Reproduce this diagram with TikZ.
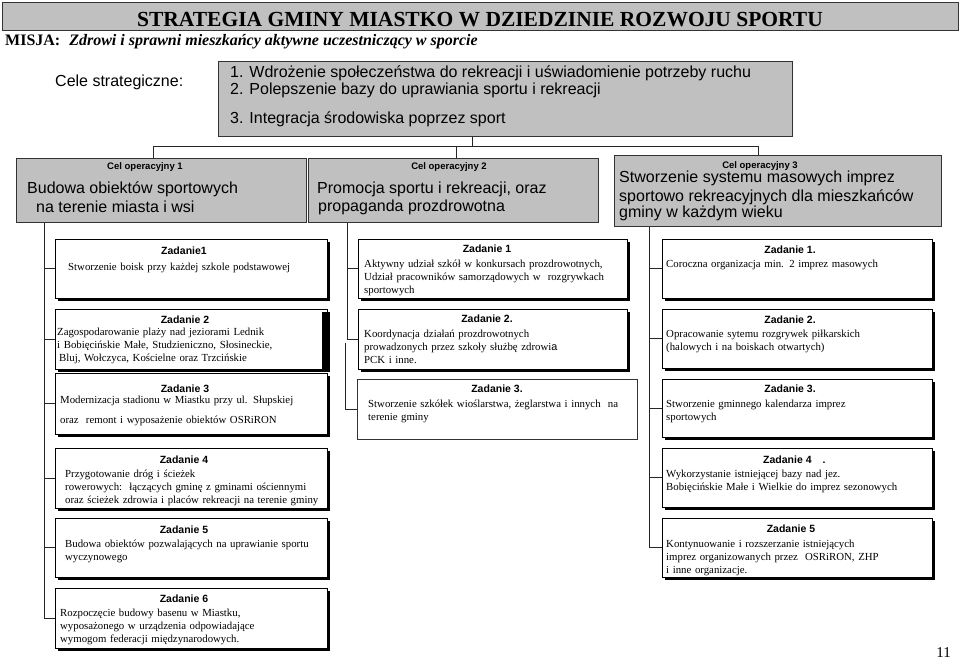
\documentclass[tikz,border=0pt]{standalone}
\usepackage{fontspec}
\setmainfont{Liberation Serif}
\setsansfont{Liberation Sans}
\usetikzlibrary{shadows,calc}
\definecolor{boxgray}{RGB}{192,192,192}
\tikzset{
  graybox/.style={draw=black!80, fill=boxgray, line width=0.8pt, inner sep=0pt, anchor=north west},
  zbox/.style={draw=black, fill=white, line width=0.8pt, inner sep=0pt, anchor=north west,
    drop shadow={shadow xshift=2.5pt, shadow yshift=-2.5pt, fill=black, opacity=1}},
  zboxflat/.style={draw=black!80, fill=white, line width=0.8pt, inner sep=0pt, anchor=north west},
  conn/.style={draw=black!85, line width=0.9pt},
  ztitle/.style={font=\sffamily\bfseries\fontsize{10.5}{12}\selectfont, inner sep=0pt, anchor=base},
  zbody/.style={font=\fontsize{10.8}{13.2}\selectfont, inner sep=0pt, anchor=base west, align=left, text width=280pt},
  celsmall/.style={font=\sffamily\bfseries\fontsize{9.5}{11}\selectfont, inner sep=0pt, anchor=base},
  celbig/.style={font=\sffamily\fontsize{16}{19}\selectfont, inner sep=0pt, anchor=base west},
}
\begin{document}
\begin{tikzpicture}[x=1pt, y=-1pt]
\useasboundingbox (0,0) rectangle (960,659);

% title and mission
\node[graybox, minimum width=956pt, minimum height=28pt] (titlebar) at (2,2) {};
\node[font=\bfseries\fontsize{21.5}{24}\selectfont, anchor=base, inner sep=0pt] (title) at (480,26)
  {STRATEGIA GMINY MIASTKO W DZIEDZINIE ROZWOJU SPORTU};
\node[font=\bfseries\fontsize{16}{19}\selectfont, anchor=base west, inner sep=0pt] (misja) at (5,45)
  {MISJA:\hspace{9pt}\textit{Zdrowi i sprawni mieszkańcy aktywne uczestniczący w sporcie}};

% strategic goals
\node[celbig] (celelabel) at (55,86) {Cele strategiczne:};
\node[graybox, minimum width=574pt, minimum height=75pt] (strat) at (218,61) {};
\node[celbig] (s1) at (230,77) {1. Wdrożenie społeczeństwa do rekreacji i uświadomienie potrzeby ruchu};
\node[celbig] (s2) at (230,94) {2. Polepszenie bazy do uprawiania sportu i rekreacji};
\node[celbig] (s3) at (230,123) {3. Integracja środowiska poprzez sport};

% operational goals
\node[graybox, minimum width=290pt, minimum height=64pt] (cel1) at (16,158) {};
\node[graybox, minimum width=290pt, minimum height=64pt] (cel2) at (308,158) {};
\node[graybox, minimum width=327pt, minimum height=71pt] (cel3) at (614,155) {};

\node[celsmall] (cel1a) at (145,169) {Cel operacyjny 1};
\node[celbig] (cel1b) at (27,193) {Budowa obiektów sportowych};
\node[celbig] (cel1c) at (36,212) {na terenie miasta i wsi};

\node[celsmall] (cel2a) at (449,169) {Cel operacyjny 2};
\node[celbig] (cel2b) at (317,193) {Promocja sportu i rekreacji, oraz};
\node[celbig] (cel2c) at (318,211) {propaganda prozdrowotna};

\node[celsmall] (cel3a) at (760,168) {Cel operacyjny 3};
\node[celbig] (cel3b) at (619,182) {Stworzenie systemu masowych imprez};
\node[celbig] (cel3c) at (619,201) {sportowo rekreacyjnych dla mieszkańców};
\node[celbig] (cel3d) at (619,217.5) {gminy w każdym wieku};

% tree from strategic box
\coordinate (hub) at (472,146);
\coordinate (d1) at (153,146);
\coordinate (d2) at (456,146);
\coordinate (d3) at (758,146);
\draw[conn] (hub |- strat.south) -- (hub);
\draw[conn] (d1 |- cel1.north) -- (d1) -- (d3) -- (d3 |- cel3.north);
\draw[conn] (d2) -- (d2 |- cel2.north);

% column 1 boxes
\node[zbox, minimum width=272pt, minimum height=59pt] (c1z1) at (55,239) {};
\node[zbox, minimum width=272pt, minimum height=60pt] (c1z2) at (55,309) {};
\node[zbox, minimum width=272pt, minimum height=61pt] (c1z3) at (55,373) {};
\node[zbox, minimum width=272pt, minimum height=60pt] (c1z4) at (55,448) {};
\node[zbox, minimum width=272pt, minimum height=59pt] (c1z5) at (55,518) {};
\node[zbox, minimum width=272pt, minimum height=60pt] (c1z6) at (55,588) {};
\fill[black] (322,312) rectangle (329.5,371.5);

% column 2 boxes
\node[zbox, minimum width=269pt, minimum height=59pt] (c2z1) at (358,239) {};
\node[zbox, minimum width=269pt, minimum height=60pt] (c2z2) at (358,309) {};
\node[zboxflat, minimum width=280pt, minimum height=60pt] (c2z3) at (357,379) {};

% column 3 boxes
\node[zbox, minimum width=270pt, minimum height=59pt] (c3z1) at (662,239) {};
\node[zbox, minimum width=270pt, minimum height=59pt] (c3z2) at (662,309) {};
\node[zbox, minimum width=270pt, minimum height=58pt] (c3z3) at (662,379) {};
\node[zbox, minimum width=270pt, minimum height=59pt] (c3z4) at (662,448) {};
\node[zbox, minimum width=270pt, minimum height=59pt] (c3z5) at (662,518) {};

% column connectors
\coordinate (v1) at (44,0);
\draw[conn] (v1 |- cel1.south) -- (v1 |- c1z6.west) -- (c1z6.west);
\foreach \b in {c1z1,c1z2,c1z3,c1z4,c1z5} \draw[conn] (v1 |- \b.west) -- (\b.west);

\coordinate (v2) at (347,0);
\draw[conn] (v2 |- cel2.south) -- (v2 |- c2z2.west) -- (c2z2.west);
\draw[conn] (v2 |- c2z1.west) -- (c2z1.west);
\coordinate (v2b) at (345,343);
\draw[conn] (v2b) -- (v2b |- c2z3.west) -- (c2z3.west);

\coordinate (v3) at (649,0);
\draw[conn] (v3 |- cel3.south) -- (v3 |- c3z5.west) -- (c3z5.west);
\foreach \b in {c3z1,c3z2,c3z3,c3z4} \draw[conn] (v3 |- \b.west) -- (\b.west);

% column 1 texts
\node[ztitle] (t11) at (184,254) {Zadanie1};
\node[zbody] (b11) at (68,270) {Stworzenie boisk przy każdej szkole podstawowej};
\node[ztitle] (t12) at (185,323) {Zadanie 2};
\node[zbody] (b12) at (57,335) {Zagospodarowanie plaży nad jeziorami Lednik\\ i Bobięcińskie Małe, Studzieniczno, Słosineckie,\\ \hspace*{2pt}Bluj, Wołczyca, Kościelne oraz Trzcińskie};
\node[ztitle] (t13) at (185,392) {Zadanie 3};
\node[zbody] (b13) at (60,403) {Modernizacja stadionu w Miastku przy ul. Słupskiej\\[6.8pt] oraz\ \ remont i wyposażenie obiektów OSRiRON};
\node[ztitle] (t14) at (184,463) {Zadanie 4};
\node[zbody] (b14) at (65,477) {Przygotowanie dróg i ścieżek\\ rowerowych:\ \ łączących gminę z gminami ościennymi\\ oraz ścieżek zdrowia i placów rekreacji na terenie gminy};
\node[ztitle] (t15) at (184,533) {Zadanie 5};
\node[zbody] (b15) at (65,547) {Budowa obiektów pozwalających na uprawianie sportu\\ wyczynowego};
\node[ztitle] (t16) at (184,602) {Zadanie 6};
\node[zbody] (b16) at (60,616) {Rozpoczęcie budowy basenu w Miastku,\\ wyposażonego w urządzenia odpowiadające\\ wymogom federacji międzynarodowych.};

% column 2 texts
\node[ztitle] (t21) at (487,252) {Zadanie 1};
\node[zbody] (b21) at (364,267) {Aktywny udział szkół w konkursach prozdrowotnych,\\ Udział pracowników samorządowych w\ \ rozgrywkach\\ sportowych};
\node[ztitle] (t22) at (487,322) {Zadanie 2.};
\node[zbody] (b22) at (364,337) {Koordynacja działań prozdrowotnych\\ prowadzonych przez szkoły służbę zdrowi{\sffamily a}\\ PCK i inne.};
\node[ztitle] (t23) at (497,392) {Zadanie 3.};
\node[zbody] (b23) at (368,407) {Stworzenie szkółek wioślarstwa, żeglarstwa i innych\ \ na\\ terenie gminy};

% column 3 texts
\node[ztitle] (t31) at (790,253) {Zadanie 1.};
\node[zbody] (b31) at (666,267) {Coroczna organizacja min. 2 imprez masowych};
\node[ztitle] (t32) at (790,323) {Zadanie 2.};
\node[zbody] (b32) at (666,337) {Opracowanie sytemu rozgrywek piłkarskich\\ (halowych i na boiskach otwartych)};
\node[ztitle] (t33) at (790,392) {Zadanie 3.};
\node[zbody] (b33) at (666,407) {Stworzenie gminnego kalendarza imprez\\ sportowych};
\node[ztitle, anchor=base west] (t34) at (763,463) {Zadanie 4\hspace{11pt}.};
\node[zbody] (b34) at (666,477) {Wykorzystanie istniejącej bazy nad jez.\\ Bobięcińskie Małe i Wielkie do imprez sezonowych};
\node[ztitle] (t35) at (791,532) {Zadanie 5};
\node[zbody] (b35) at (666,547) {Kontynuowanie i rozszerzanie istniejących\\ imprez organizowanych przez\ \ OSRiRON, ZHP\\ i inne organizacje.};

% page number
\node[font=\fontsize{15}{18}\selectfont, anchor=base east, inner sep=0pt] (pagenum) at (951,657) {11};
\end{tikzpicture}
\end{document}
